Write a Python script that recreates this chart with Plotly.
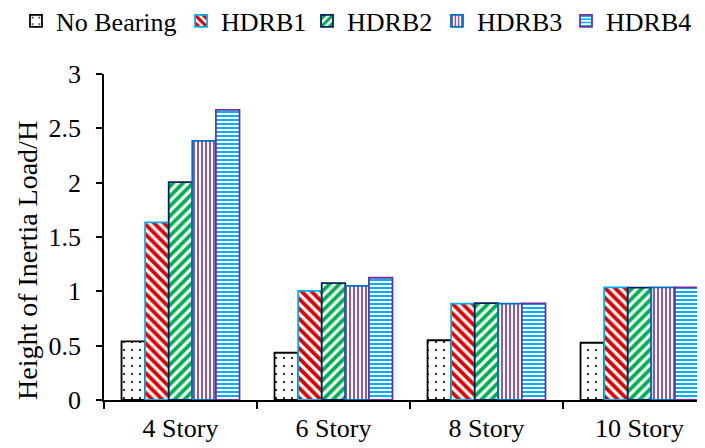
import plotly.graph_objects as go

categories = ["4 Story", "6 Story", "8 Story", "10 Story"]
series_names = ["No Bearing", "HDRB1", "HDRB2", "HDRB3", "HDRB4"]
no_bearing = [0.54, 0.435, 0.55, 0.527]
hdrb1 = [1.635, 1.005, 0.886, 1.037]
hdrb2 = [2.005, 1.076, 0.892, 1.034]
hdrb3 = [2.385, 1.05, 0.887, 1.037]
hdrb4 = [2.67, 1.125, 0.889, 1.037]
values = [no_bearing, hdrb1, hdrb2, hdrb3, hdrb4]
y_ticks = [0, 0.5, 1, 1.5, 2, 2.5, 3]
y_tick_labels = ["0", "0.5", "1", "1.5", "2", "2.5", "3"]
y_title = "Height of Inertia Load/H"

styles = [
    dict(shape=".", fg="#000000", line="#000000", size=8, sol=0.06),
    dict(shape="\\", fg="#E00000", line="#00B0F0", size=7, sol=0.55),
    dict(shape="/", fg="#00B050", line="#002060", size=7, sol=0.55),
    dict(shape="|", fg="#7030A0", line="#0070C0", size=4, sol=0.4),
    dict(shape="-", fg="#00B0F0", line="#7030A0", size=4, sol=0.5),
]
legend_ids = ["legend", "legend2", "legend3", "legend4", "legend5"]
legend_x = [8, 173, 299, 429, 558]  # px from figure left

font = "Liberation Serif, Times New Roman, serif"
W, H = 697, 440
fig = go.Figure()
for name, vals, st, lid in zip(series_names, values, styles, legend_ids):
    fig.add_trace(go.Bar(
        x=categories, y=vals, name=name, legend=lid,
        marker=dict(
            color="white",
            line=dict(color=st["line"], width=1.8),
            pattern=dict(shape=st["shape"], fgcolor=st["fg"], bgcolor="white",
                         fgopacity=1, size=st["size"], solidity=st["sol"],
                         fillmode="replace"),
        ),
    ))

legends = {}
for lid, lx in zip(legend_ids, legend_x):
    legends[lid] = dict(orientation="h", xref="container", x=lx / W, yref="container",
                        y=1 - 13 / H, yanchor="middle", xanchor="left",
                        font=dict(size=26, family=font), itemwidth=30,
                        bgcolor="rgba(0,0,0,0)")

fig.update_layout(
    width=W, height=H,
    margin=dict(l=96, r=0, t=66, b=48),
    paper_bgcolor="white", plot_bgcolor="white",
    barmode="group", bargap=0.229, bargroupgap=0,
    font=dict(family=font, size=26, color="black"),
    showlegend=True,
    xaxis=dict(range=[-0.5, 3.428], showline=True, linecolor="black", linewidth=1.5,
               ticks="outside", tickson="boundaries", ticklen=7, tickcolor="black",
               tickwidth=1.5, ticklabelstandoff=4,
               tickfont=dict(size=26, family=font), showgrid=False),
    yaxis=dict(range=[0, 3], tickvals=y_ticks, ticktext=y_tick_labels,
               showline=True, linecolor="black", linewidth=1.5,
               ticks="outside", ticklen=6, tickcolor="black", tickwidth=1.5,
               ticklabelstandoff=10,
               tickfont=dict(size=26, family=font), showgrid=False, zeroline=False),
    annotations=[dict(text=y_title, textangle=-90, xref="paper", yref="paper",
                      x=(19 - 96) / 601, y=(392 - 253) / 326, xanchor="center",
                      yanchor="middle", showarrow=False,
                      font=dict(size=28, family=font, color="black"))],
    **legends,
)
fig.write_html("out.html")
